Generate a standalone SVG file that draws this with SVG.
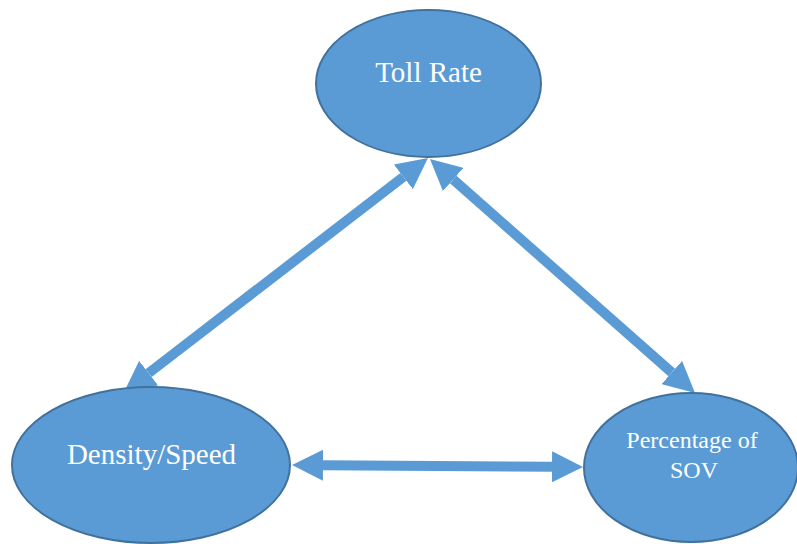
<svg xmlns="http://www.w3.org/2000/svg" width="797" height="544" viewBox="0 0 797 544">
  <style>
    .node { fill: #5B9BD5; stroke: #41719C; stroke-width: 2; }
    .label { fill: #FFFFFF; font-family: "Liberation Serif", "Times New Roman", serif; text-anchor: middle; }
    .link { stroke: #5B9BD5; stroke-width: 10; fill: none; marker-start: url(#head); marker-end: url(#head); }
  </style>
  <defs>
    <!-- arrowhead: 31px long, 31px wide on a 10px shaft; base sits on the line end -->
    <marker id="head" viewBox="0 0 10 10" refX="0" refY="5" markerWidth="3.1" markerHeight="3.1" orient="auto-start-reverse">
      <path d="M0,0 L10,5 L0,10 Z" fill="#5B9BD5"/>
    </marker>
  </defs>

  <!-- connectors (drawn under the nodes) -->
  <g id="connectors">
    <!-- Toll Rate <-> Density/Speed: tips (428,158) and (124,392) -->
    <line class="link" x1="403.4" y1="176.9" x2="148.6" y2="373.1"/>
    <!-- Toll Rate <-> Percentage of SOV: tips (430,159) and (695,393) -->
    <line class="link" x1="453.2" y1="179.5" x2="671.8" y2="372.5"/>
    <!-- Density/Speed <-> Percentage of SOV: tips (292,465) and (583,467) -->
    <line class="link" x1="323" y1="465.2" x2="552" y2="466.8"/>
  </g>

  <g id="toll-rate">
    <ellipse class="node" cx="428.5" cy="83.5" rx="112.5" ry="73.5"/>
    <text class="label" x="428.5" y="82" font-size="29">Toll Rate</text>
  </g>

  <g id="density-speed">
    <ellipse class="node" cx="151" cy="465" rx="139" ry="78"/>
    <text class="label" x="151.5" y="464" font-size="29">Density/Speed</text>
  </g>

  <g id="percentage-sov">
    <ellipse class="node" cx="691" cy="467.5" rx="107" ry="74.5"/>
    <text class="label" font-size="24">
      <tspan x="695" y="448">Percentage of</tspan>
      <tspan x="694" y="478">SOV</tspan>
    </text>
  </g>
</svg>
